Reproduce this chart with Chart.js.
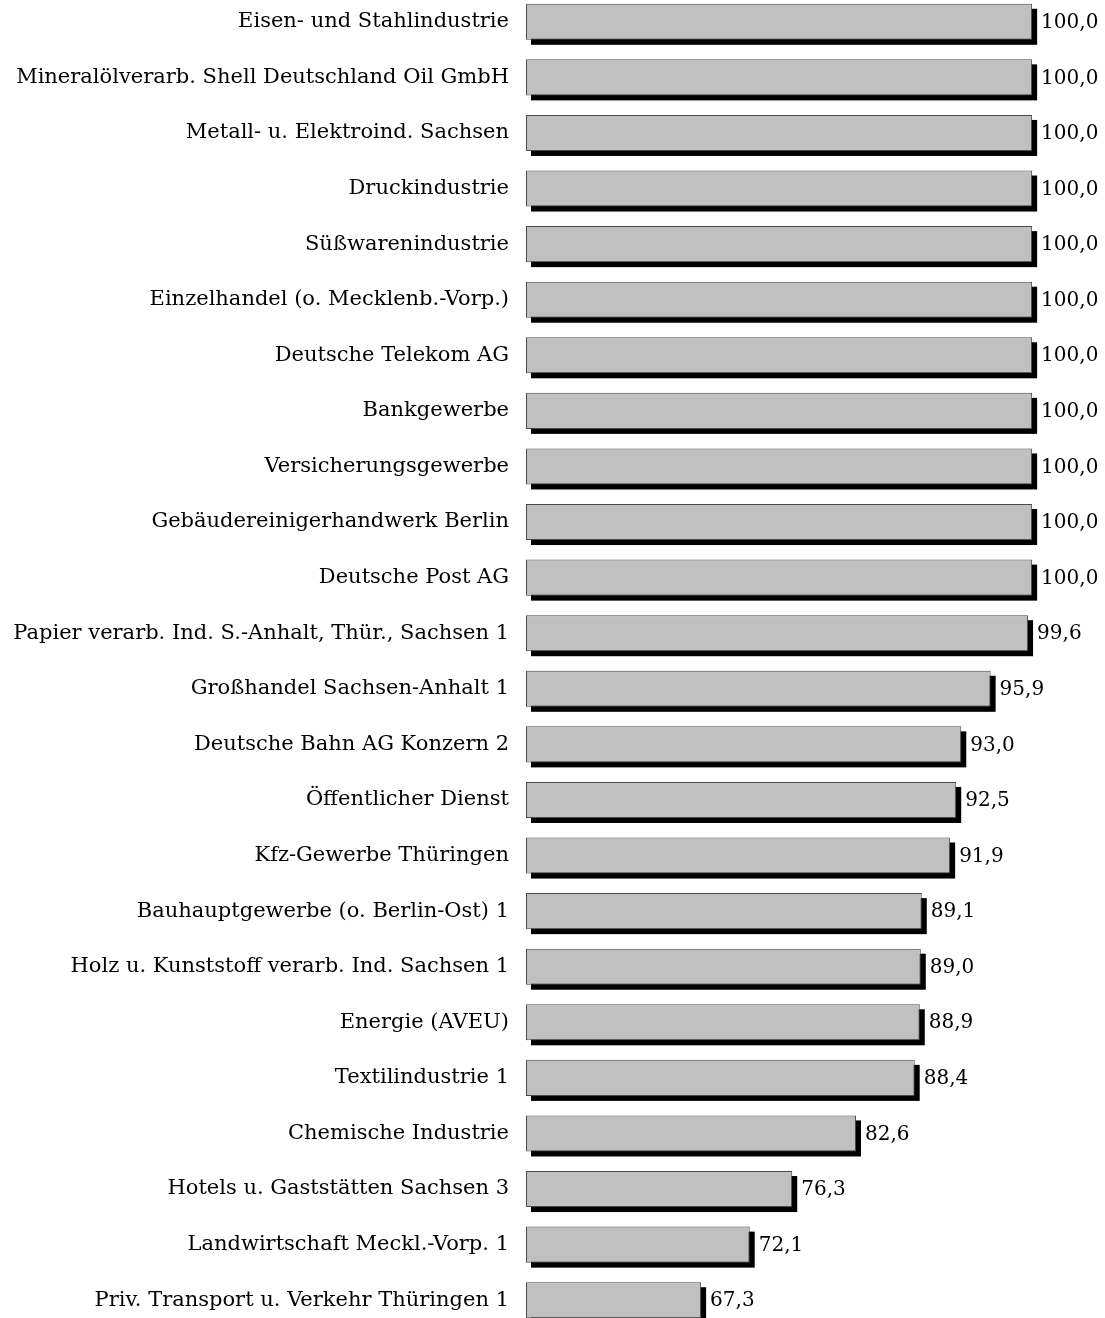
<!DOCTYPE html>
<html>
<head>
<meta charset="utf-8">
<script src="https://cdn.jsdelivr.net/npm/chart.js@4"></script>
<style>
  html, body { margin: 0; padding: 0; background: #fff; overflow: hidden; }
  #wrap { position: relative; width: 1105px; height: 1318px; overflow: hidden; }
  #chart { position: absolute; left: 0; top: -6px; }
</style>
</head>
<body>
<div id="wrap"><canvas id="chart" width="1105" height="1334"></canvas></div>
<script>
const categories = [
  'Eisen- und Stahlindustrie',
  'Mineralölverarb. Shell Deutschland Oil GmbH',
  'Metall- u. Elektroind. Sachsen',
  'Druckindustrie',
  'Süßwarenindustrie',
  'Einzelhandel (o. Mecklenb.-Vorp.)',
  'Deutsche Telekom AG',
  'Bankgewerbe',
  'Versicherungsgewerbe',
  'Gebäudereinigerhandwerk Berlin',
  'Deutsche Post AG',
  'Papier verarb. Ind. S.-Anhalt, Thür., Sachsen 1',
  'Großhandel Sachsen-Anhalt 1',
  'Deutsche Bahn AG Konzern 2',
  'Öffentlicher Dienst',
  'Kfz-Gewerbe Thüringen',
  'Bauhauptgewerbe (o. Berlin-Ost) 1',
  'Holz u. Kunststoff verarb. Ind. Sachsen 1',
  'Energie (AVEU)',
  'Textilindustrie 1',
  'Chemische Industrie',
  'Hotels u. Gaststätten Sachsen 3',
  'Landwirtschaft Meckl.-Vorp. 1',
  'Priv. Transport u. Verkehr Thüringen 1'
];

const values = [
  100.0, 100.0, 100.0, 100.0, 100.0, 100.0, 100.0, 100.0, 100.0, 100.0, 100.0,
  99.6, 95.9, 93.0, 92.5, 91.9, 89.1, 89.0, 88.9, 88.4, 82.6, 76.3, 72.1, 67.3
];

const FONT = 'DejaVu Serif';

// black drop shadow behind each bar
const shadowPlugin = {
  id: 'barShadow',
  beforeDatasetsDraw(chart) {
    const ctx = chart.ctx;
    const left = chart.chartArea.left;
    ctx.save();
    ctx.fillStyle = '#000';
    chart.getDatasetMeta(0).data.forEach(bar => {
      const p = bar.getProps(['x', 'y', 'base', 'height'], true);
      const x0 = Math.max(p.base, left);
      ctx.fillRect(x0 + 5, p.y - p.height / 2 + 5, p.x - x0, p.height);
    });
    ctx.restore();
  }
};

// value text right of the bars
const valuePlugin = {
  id: 'valueLabels',
  afterDatasetsDraw(chart) {
    const ctx = chart.ctx;
    ctx.save();
    ctx.fillStyle = '#000';
    ctx.font = '20px "' + FONT + '"';
    ctx.textAlign = 'left';
    ctx.textBaseline = 'middle';
    chart.getDatasetMeta(0).data.forEach((bar, i) => {
      const p = bar.getProps(['x', 'y'], true);
      ctx.fillText(values[i].toFixed(1).replace('.', ','), p.x + 9, p.y + 1);
    });
    ctx.restore();
  }
};

new Chart(document.getElementById('chart'), {
  type: 'bar',
  data: {
    labels: categories,
    datasets: [{
      data: values,
      base: 50,
      backgroundColor: '#c0c0c0',
      borderColor: '#4a4a4a',
      borderWidth: 1,
      borderSkipped: false,
      categoryPercentage: 1,
      barPercentage: 0.648
    }]
  },
  options: {
    indexAxis: 'y',
    responsive: false,
    animation: false,
    layout: { padding: 0 },
    plugins: {
      legend: { display: false },
      tooltip: { enabled: false }
    },
    scales: {
      x: {
        display: false,
        min: 50,
        max: 107.2
      },
      y: {
        grid: { display: false, drawTicks: false },
        border: { display: false },
        ticks: {
          color: '#000',
          padding: 17,
          autoSkip: false,
          font: { family: FONT, size: 21 }
        },
        afterFit(scale) {
          scale.width = 526;
          scale.paddingTop = 0;
          scale.paddingBottom = 0;
        }
      }
    }
  },
  plugins: [shadowPlugin, valuePlugin]
});
</script>
</body>
</html>
